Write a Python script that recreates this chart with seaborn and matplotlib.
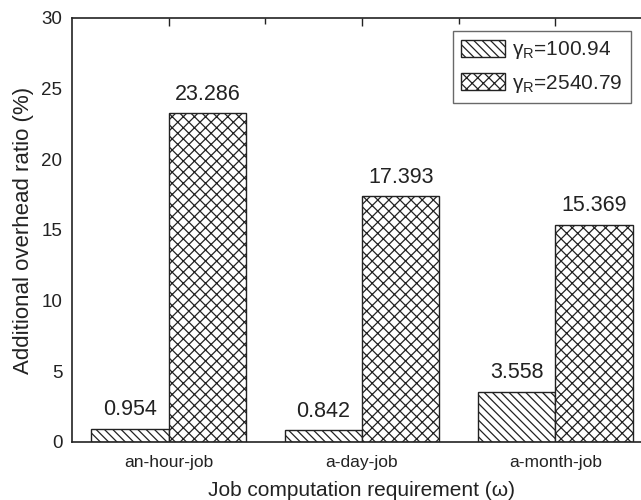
import pandas as pd
import seaborn as sns
import matplotlib.pyplot as plt
from matplotlib.patches import Patch
from matplotlib.ticker import MultipleLocator

# --- data ---
jobs = ['an-hour-job', 'a-day-job', 'a-month-job']
series = ['γ$_\\mathrm{R}$=100.94', 'γ$_\\mathrm{R}$=2540.79']
overhead_low = [0.954, 0.842, 3.558]
overhead_high = [23.286, 17.393, 15.369]
hatches = ['\\\\\\\\', 'xxx']

df = pd.DataFrame({
    'job': jobs * 2,
    'gamma': [series[0]] * 3 + [series[1]] * 3,
    'ratio': overhead_low + overhead_high,
})

sns.set_style('white')
plt.rcParams['font.family'] = ['Liberation Sans', 'DejaVu Sans']
plt.rcParams['mathtext.fontset'] = 'custom'
plt.rcParams['mathtext.rm'] = 'Liberation Sans'
plt.rcParams['hatch.linewidth'] = 0.9
plt.rcParams['hatch.color'] = '#222222'

fig = plt.figure(figsize=(6.41, 5.0), dpi=100)
ax = fig.add_axes([72 / 641, 58 / 500, 580 / 641, 424 / 500])

sns.barplot(data=df, x='job', y='ratio', hue='gamma', order=jobs,
            hue_order=series, width=0.8, ax=ax, legend=False,
            palette=['white', 'white'],
            edgecolor='#222222', linewidth=1.0)

for cont, h in zip(ax.containers, hatches):
    for bar in cont:
        bar.set_hatch(h)
        bar.set_facecolor('white')
    ax.bar_label(cont, fmt='%.3f', padding=6, fontsize=15.5, color='#222222')

ax.set_xlim(-0.5, 2.5)
ax.set_ylim(0, 30)
ax.yaxis.set_major_locator(MultipleLocator(5))
ax.yaxis.set_minor_locator(MultipleLocator(2.5))
ax.set_xticks([0, 1, 2])
ax.set_xticks([0.5, 1.5], minor=True)
ax.tick_params(which='both', direction='in', top=True, right=True,
               colors='#222222', width=1.0)
ax.tick_params(which='major', length=6)
ax.tick_params(which='minor', length=4)
ax.tick_params(axis='y', labelsize=13.5, pad=7)
ax.tick_params(axis='x', labelsize=12.5, pad=9)

for sp in ax.spines.values():
    sp.set_color('#222222')
    sp.set_linewidth(1.2)

ax.set_xlabel('Job computation requirement (ω)', fontsize=15, color='#222222', labelpad=8)
ax.set_ylabel('Additional overhead ratio (%)', fontsize=16, color='#222222', labelpad=5)

handles = [Patch(facecolor='white', edgecolor='#222222', hatch=h, label=s)
           for h, s in zip(hatches, series)]
leg = ax.legend(handles=handles, loc='upper left', bbox_to_anchor=(453 / 641, 1 - 31 / 500),
                bbox_transform=fig.transFigure, fontsize=15, frameon=True, fancybox=False,
                handlelength=2.1, handleheight=0.9, borderpad=0.4, labelspacing=0.55,
                handletextpad=0.35, borderaxespad=0)
leg.get_frame().set_edgecolor('#444444')
leg.get_frame().set_linewidth(1.0)

fig.savefig('out.png', dpi=100)
